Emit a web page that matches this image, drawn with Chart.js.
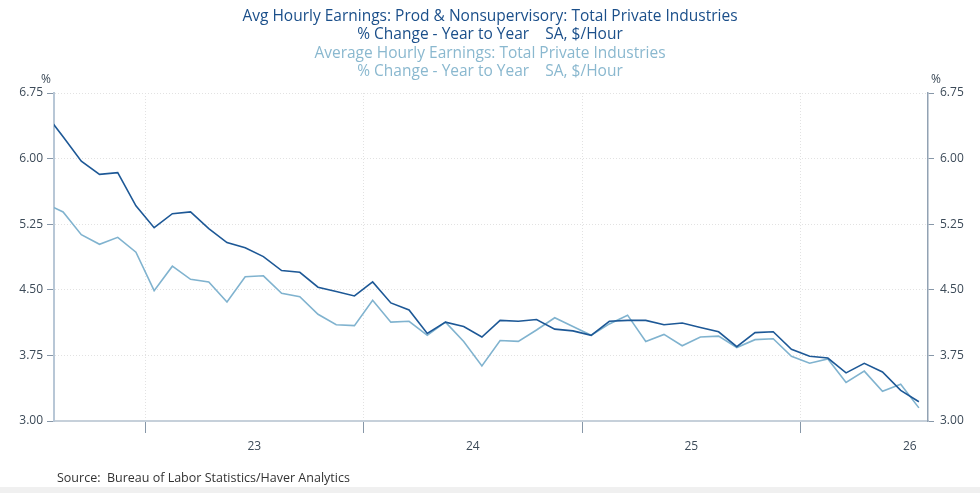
<!DOCTYPE html>
<html>
<head>
<meta charset="utf-8">
<script src="https://cdn.jsdelivr.net/npm/chart.js@4.4.1/dist/chart.umd.min.js"></script>
<style>
    html, body { margin: 0; padding: 0; background: #fff; }
    #wrap { position: relative; width: 980px; height: 493px; overflow: hidden; }
    #foot { position: absolute; left: 0; top: 487px; width: 980px; height: 6px; background: #f0f0f0; }
</style>
</head>
<body>
<div id="wrap">
    <canvas id="chart" width="980" height="493"></canvas>
    <div id="foot"></div>
</div>
<script>
// monthly values, Jul 2022 .. Jul 2026 (x = months from Jan 2023)
const firstMonth = -6;
const prodNonsup = [
    6.52, 6.25, 5.97, 5.82, 5.84, 5.46,
    5.21, 5.37, 5.39, 5.20, 5.04, 4.98, 4.88, 4.72, 4.70, 4.53, 4.48, 4.43,
    4.59, 4.35, 4.27, 4.00, 4.13, 4.08, 3.96, 4.15, 4.14, 4.16, 4.05, 4.03,
    3.98, 4.14, 4.15, 4.15, 4.10, 4.12, 4.07, 4.02, 3.85, 4.01, 4.02, 3.82,
    3.74, 3.72, 3.55, 3.66, 3.56, 3.35, 3.22
];
const totalPrivate = [
    5.49, 5.39, 5.13, 5.02, 5.10, 4.93,
    4.49, 4.77, 4.62, 4.59, 4.36, 4.65, 4.66, 4.46, 4.42, 4.22, 4.10, 4.09,
    4.38, 4.13, 4.14, 3.98, 4.13, 3.91, 3.63, 3.92, 3.91, 4.04, 4.18, 4.08,
    3.98, 4.11, 4.21, 3.91, 3.99, 3.86, 3.96, 3.97, 3.84, 3.93, 3.94, 3.74,
    3.66, 3.71, 3.44, 3.57, 3.34, 3.42, 3.15
];
const yearLabels = ['23', '24', '25', '26'];
const yTicks = [3.00, 3.75, 4.50, 5.25, 6.00, 6.75];
const titleDark = ['Avg Hourly Earnings: Prod & Nonsupervisory: Total Private Industries', '% Change - Year to Year    SA, $/Hour'];
const titleLight = ['Average Hourly Earnings: Total Private Industries', '% Change - Year to Year    SA, $/Hour'];
const sourceText = 'Source:  Bureau of Labor Statistics/Haver Analytics';

const DARK = '#1d5896';
const LIGHT = '#80b3cf';
const FONT = '"Open Sans", "Noto Sans", sans-serif';

const toPoints = arr => arr.map((v, i) => ({ x: firstMonth + i, y: v }));
const yearEdges = yearLabels.map((_, k) => 12 * k - 0.5);
const yearMids = yearLabels.map((_, k) => 12 * k + 5.5);
const isEdge = v => yearEdges.some(e => Math.abs(e - v) < 1e-6);

const textPlugin = {
    id: 'texts',
    afterDraw(chart) {
        const ctx = chart.ctx;
        ctx.save();
        ctx.textAlign = 'center';
        ctx.textBaseline = 'alphabetic';
        ctx.font = '15.5px ' + FONT;
        ctx.fillStyle = '#1b4f8a';
        ctx.fillText(titleDark[0], 490, 21);
        ctx.fillText(titleDark[1], 490, 39);
        ctx.fillStyle = '#8ab8cf';
        ctx.fillText(titleLight[0], 490, 58);
        ctx.fillText(titleLight[1], 490, 76);

        ctx.font = '12px ' + FONT;
        ctx.fillStyle = '#3c4a58';
        ctx.fillText('%', 46, 83);
        ctx.fillText('%', 936, 83);

        ctx.textAlign = 'left';
        ctx.font = '12.5px ' + FONT;
        ctx.fillStyle = '#333';
        ctx.fillText(sourceText, 57, 482);
        ctx.restore();
    }
};

function yAxis(position, borderColor, borderWidth, tickLen, pad, onArea) {
    return {
        type: 'linear',
        position: position,
        min: yTicks[0],
        max: yTicks[yTicks.length - 1],
        afterBuildTicks: s => { s.ticks = yTicks.map(v => ({ value: v })); },
        afterFit: s => { s.width = position === 'left' ? 54 : 52; },
        ticks: {
            callback: v => Number(v).toFixed(2),
            color: '#3c4a58',
            font: { family: FONT, size: 12 },
            padding: pad
        },
        grid: {
            drawOnChartArea: onArea,
            color: '#e2e2e2',
            tickColor: '#8797a8',
            tickLength: tickLen,
            lineWidth: 1
        },
        border: { color: borderColor, width: borderWidth, dash: [1, 2] }
    };
}

new Chart(document.getElementById('chart'), {
    type: 'line',
    data: {
        datasets: [
            { label: 'Prod & Nonsupervisory', data: toPoints(prodNonsup), borderColor: DARK, borderWidth: 1.6, yAxisID: 'y' },
            { label: 'Total Private', data: toPoints(totalPrivate), borderColor: LIGHT, borderWidth: 1.6, yAxisID: 'y' }
        ]
    },
    options: {
        responsive: false,
        animation: false,
        devicePixelRatio: 1,
        layout: { padding: { top: 93, left: 0, right: 0, bottom: 0 } },
        elements: { point: { radius: 0 }, line: { tension: 0 } },
        plugins: { legend: { display: false }, tooltip: { enabled: false } },
        scales: {
            x: {
                type: 'linear',
                min: -5.5,
                max: 42.5,
                afterBuildTicks: s => {
                    s.ticks = yearEdges.concat(yearMids).sort((a, b) => a - b).map(v => ({ value: v }));
                },
                afterFit: s => { s.height = 72; },
                ticks: {
                    autoSkip: false,
                    maxRotation: 0,
                    color: '#3c4a58',
                    font: { family: FONT, size: 12 },
                    padding: 6,
                    callback: v => {
                        const k = yearMids.findIndex(m => Math.abs(m - v) < 1e-6);
                        return k >= 0 ? yearLabels[k] : '';
                    }
                },
                grid: {
                    color: c => (c.tick && isEdge(c.tick.value)) ? '#e2e2e2' : 'rgba(0,0,0,0)',
                    tickColor: c => (c.tick && isEdge(c.tick.value)) ? '#8797a8' : 'rgba(0,0,0,0)',
                    tickLength: 12
                },
                border: { color: '#c6d0da', width: 2, dash: [1, 2] }
            },
            y: yAxis('left', '#b8c7d6', 2, 7, 4, true),
            yR: yAxis('right', '#92a2b3', 1.5, 6, 6, false)
        }
    },
    plugins: [textPlugin]
});
</script>
</body>
</html>
